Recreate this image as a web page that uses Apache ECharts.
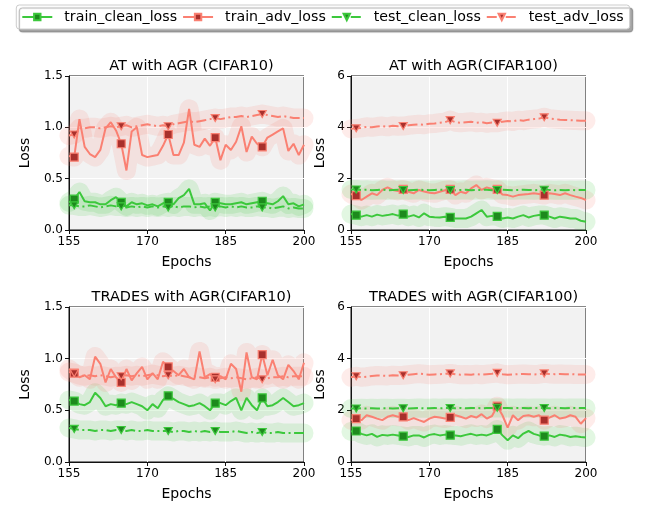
<!DOCTYPE html>
<html>
<head>
<meta charset="utf-8">
<script src="https://cdn.jsdelivr.net/npm/echarts@6/dist/echarts.min.js"></script>
<style>
  html, body { margin: 0; padding: 0; background: #fff; }
  #chart { width: 645px; height: 505px; }
</style>
</head>
<body>
<div id="chart"></div>
<script>
// epochs 155..200, markers every 9 epochs starting at 156
const epochs = Array.from({ length: 46 }, (_, i) => 155 + i);
const markIdx = [1, 10, 19, 28, 37];

const xTicks = [155, 170, 185, 200];
const yTicksC10 = [0, 0.5, 1.0, 1.5];
const yTicksC100 = [0, 2, 4, 6];

const titles = ['AT with AGR (CIFAR10)', 'AT with AGR(CIFAR100)', 'TRADES with AGR(CIFAR10)', 'TRADES with AGR(CIFAR100)'];
const names = ['train_clean_loss', 'train_adv_loss', 'test_clean_loss', 'test_adv_loss'];

// AT, CIFAR10
const atC10TrainClean = [0.27,0.30,0.37,0.28,0.27,0.27,0.25,0.25,0.29,0.32,0.27,0.23,0.27,0.25,0.26,0.24,0.25,0.23,0.26,0.27,0.25,0.31,0.34,0.40,0.25,0.25,0.26,0.19,0.27,0.26,0.25,0.25,0.26,0.27,0.25,0.26,0.27,0.28,0.26,0.25,0.28,0.33,0.25,0.26,0.23,0.25];
const atC10TrainAdv = [0.72,0.71,1.08,0.81,0.74,0.71,0.78,0.99,1.05,0.97,0.84,0.58,0.96,1.00,0.73,0.71,0.72,0.73,0.82,0.93,0.73,0.73,0.85,1.18,0.83,0.81,0.89,0.82,0.90,0.68,0.83,0.78,0.86,1.01,0.76,0.91,0.84,0.81,0.90,0.93,0.96,0.99,0.77,0.84,0.73,0.83];
const atC10TestClean = [0.24,0.24,0.23,0.23,0.24,0.23,0.22,0.23,0.24,0.23,0.23,0.22,0.23,0.22,0.23,0.22,0.23,0.22,0.23,0.22,0.23,0.22,0.23,0.23,0.22,0.23,0.22,0.23,0.22,0.23,0.22,0.23,0.22,0.23,0.22,0.22,0.23,0.22,0.22,0.21,0.22,0.23,0.21,0.22,0.21,0.21];
const atC10TestAdv = [0.92,0.93,0.99,0.99,1.00,1.00,0.99,1.00,1.01,1.00,1.01,1.02,1.00,1.01,1.02,1.03,1.02,1.01,1.02,1.01,1.03,1.04,1.05,1.06,1.05,1.06,1.07,1.08,1.09,1.08,1.09,1.10,1.10,1.11,1.10,1.11,1.12,1.13,1.12,1.11,1.10,1.11,1.10,1.09,1.09,1.09];

// AT, CIFAR100
const atC100TrainClean = [0.62,0.58,0.52,0.58,0.52,0.60,0.55,0.58,0.62,0.56,0.62,0.52,0.58,0.49,0.65,0.52,0.50,0.49,0.52,0.49,0.45,0.45,0.45,0.52,0.65,0.78,0.52,0.55,0.53,0.45,0.49,0.45,0.52,0.58,0.49,0.55,0.58,0.58,0.52,0.45,0.52,0.49,0.45,0.45,0.36,0.32];
const atC100TrainAdv = [1.40,1.34,1.17,1.30,1.43,1.36,1.56,1.66,1.56,1.52,1.58,1.49,1.43,1.56,1.50,1.45,1.43,1.49,1.55,1.58,1.36,1.49,1.43,1.62,1.75,1.56,1.66,1.60,1.58,1.38,1.36,1.30,1.36,1.38,1.40,1.43,1.40,1.36,1.43,1.40,1.36,1.43,1.36,1.30,1.25,1.17];
const atC100TestClean = [1.58,1.58,1.56,1.57,1.55,1.56,1.57,1.55,1.56,1.57,1.56,1.55,1.56,1.57,1.56,1.55,1.56,1.57,1.56,1.56,1.55,1.56,1.57,1.55,1.56,1.56,1.57,1.55,1.56,1.57,1.56,1.55,1.56,1.57,1.56,1.55,1.56,1.57,1.56,1.55,1.56,1.55,1.56,1.55,1.56,1.56];
const atC100TestAdv = [3.94,3.96,3.98,4.02,4.00,4.03,4.05,4.02,4.06,4.04,4.05,4.08,4.10,4.12,4.10,4.14,4.15,4.18,4.20,4.28,4.20,4.18,4.20,4.22,4.18,4.20,4.16,4.19,4.18,4.22,4.25,4.23,4.28,4.26,4.30,4.32,4.34,4.39,4.34,4.32,4.30,4.29,4.28,4.27,4.26,4.26];

// TRADES, CIFAR10
const trC10TrainClean = [0.60,0.59,0.56,0.55,0.58,0.67,0.62,0.54,0.56,0.55,0.57,0.56,0.58,0.56,0.54,0.50,0.56,0.52,0.60,0.64,0.61,0.58,0.56,0.54,0.55,0.57,0.54,0.50,0.57,0.57,0.55,0.59,0.62,0.50,0.62,0.55,0.50,0.62,0.54,0.55,0.58,0.62,0.58,0.54,0.55,0.57];
const trC10TrainAdv = [0.90,0.86,0.82,0.84,0.80,1.02,0.95,0.77,0.90,0.82,0.77,0.90,0.79,0.86,0.92,0.80,0.86,0.80,0.97,0.92,0.88,0.84,0.90,0.82,0.80,1.07,0.82,0.85,0.82,0.83,0.80,0.95,0.90,0.68,1.06,0.82,0.80,1.04,0.84,0.99,0.84,0.80,0.94,0.88,0.80,0.96];
const trC10TestClean = [0.33,0.32,0.31,0.31,0.31,0.30,0.31,0.31,0.30,0.31,0.31,0.30,0.31,0.30,0.30,0.31,0.30,0.30,0.30,0.30,0.29,0.30,0.30,0.29,0.30,0.29,0.30,0.29,0.30,0.29,0.29,0.29,0.30,0.29,0.28,0.29,0.28,0.29,0.28,0.28,0.29,0.28,0.28,0.28,0.28,0.28];
const trC10TestAdv = [0.87,0.86,0.84,0.83,0.84,0.83,0.84,0.83,0.82,0.83,0.83,0.84,0.83,0.84,0.83,0.84,0.85,0.84,0.83,0.84,0.83,0.84,0.83,0.82,0.83,0.82,0.81,0.82,0.80,0.81,0.82,0.81,0.82,0.81,0.80,0.81,0.82,0.80,0.81,0.82,0.82,0.83,0.82,0.83,0.83,0.83];

// TRADES, CIFAR100
const trC100TrainClean = [1.18,1.20,1.09,1.03,1.09,0.97,1.05,1.03,1.06,1.03,1.00,0.97,1.03,1.03,0.95,1.05,1.08,1.03,1.06,1.04,1.03,1.00,1.05,1.09,1.03,1.06,1.03,1.10,1.26,1.03,0.84,1.03,0.92,1.10,1.20,1.09,1.03,1.00,1.03,0.97,1.06,1.03,0.97,1.00,0.97,0.95];
const trC100TrainAdv = [1.62,1.68,1.62,1.81,1.75,1.68,1.62,1.75,1.81,1.75,1.75,1.62,1.70,1.62,1.55,1.68,1.75,1.72,1.68,1.73,1.81,1.75,1.68,1.78,1.72,1.85,1.68,1.78,2.16,1.81,1.33,1.81,1.62,1.78,1.81,1.75,1.81,1.62,1.72,1.81,1.68,1.72,1.81,1.75,1.48,1.70];
const trC100TestClean = [2.07,2.07,2.08,2.07,2.08,2.07,2.08,2.08,2.07,2.08,2.08,2.07,2.08,2.09,2.08,2.08,2.09,2.08,2.09,2.09,2.08,2.09,2.08,2.09,2.09,2.08,2.09,2.09,2.10,2.09,2.09,2.08,2.09,2.09,2.08,2.09,2.09,2.09,2.08,2.09,2.09,2.08,2.09,2.09,2.09,2.09];
const trC100TestAdv = [3.28,3.32,3.28,3.30,3.33,3.35,3.34,3.33,3.36,3.35,3.36,3.38,3.40,3.42,3.40,3.38,3.39,3.40,3.41,3.43,3.40,3.38,3.39,3.38,3.40,3.38,3.40,3.42,3.45,3.40,3.38,3.39,3.40,3.41,3.40,3.39,3.40,3.43,3.41,3.40,3.41,3.40,3.40,3.39,3.39,3.39];

const panels = [
  [atC10TrainClean, atC10TrainAdv, atC10TestClean, atC10TestAdv],
  [atC100TrainClean, atC100TrainAdv, atC100TestClean, atC100TestAdv],
  [trC10TrainClean, trC10TrainAdv, trC10TestClean, trC10TestAdv],
  [trC100TrainClean, trC100TrainAdv, trC100TestClean, trC100TestAdv]
];

const GREEN = '#3cc83c';
const SALMON = '#fa8072';
const triDown = 'path://M0,0 L10,0 L5,9 Z';
const dashDot = [10, 3.5, 2, 3.5];
const styles = [
  { color: GREEN, halo: 'rgba(60,200,60,0.15)', fill: '#1d8a1d', symbol: 'rect', dash: 'solid' },
  { color: SALMON, halo: 'rgba(250,128,114,0.15)', fill: '#a8302c', symbol: 'rect', dash: 'solid' },
  { color: GREEN, halo: 'rgba(60,200,60,0.15)', fill: '#1d8a1d', symbol: triDown, dash: dashDot },
  { color: SALMON, halo: 'rgba(250,128,114,0.15)', fill: '#a8302c', symbol: triDown, dash: dashDot }
];

const font = 'DejaVu Sans';
const gridPos = [
  { left: 69, top: 76, width: 235, height: 154 },
  { left: 351, top: 76, width: 235, height: 154 },
  { left: 69, top: 307, width: 235, height: 155 },
  { left: 351, top: 307, width: 235, height: 155 }
];

let chart = echarts.init(document.getElementById('chart'));

const grids = gridPos.map(g => Object.assign({
  show: true, backgroundColor: '#f2f2f2', borderColor: '#111', borderWidth: 1
}, g));

const xAxes = gridPos.map((g, i) => ({
  gridIndex: i, type: 'value',
  // offset from first epoch so ticks land on 155/170/185/200
  min: 0, max: xTicks[xTicks.length - 1] - xTicks[0], interval: xTicks[1] - xTicks[0],
  name: 'Epochs', nameLocation: 'middle', nameGap: 25,
  nameTextStyle: { fontFamily: font, fontSize: 14, color: '#000' },
  axisLine: { show: true, onZero: false, lineStyle: { color: '#111', width: 1 } },
  axisTick: { show: true, length: 4, lineStyle: { color: '#111' } },
  axisLabel: { fontFamily: font, fontSize: 12, color: '#000', margin: 6, formatter: v => String(v + xTicks[0]) },
  splitLine: { show: true, lineStyle: { color: '#fff', width: 1 } }
}));

const yAxes = gridPos.map((g, i) => {
  const ticks = (i % 2 === 0) ? yTicksC10 : yTicksC100;
  return {
    gridIndex: i, type: 'value',
    min: ticks[0], max: ticks[ticks.length - 1], interval: ticks[1] - ticks[0],
    name: 'Loss', nameLocation: 'middle', nameGap: (i % 2 === 0) ? 37 : 24,
    nameTextStyle: { fontFamily: font, fontSize: 14, color: '#000' },
    axisLine: { show: true, lineStyle: { color: '#111', width: 1 } },
    axisTick: { show: true, length: 4, lineStyle: { color: '#111' } },
    axisLabel: {
      fontFamily: font, fontSize: 12, color: '#000', margin: 6,
      formatter: v => (i % 2 === 0) ? v.toFixed(1) : String(v)
    },
    splitLine: { show: true, lineStyle: { color: '#fff', width: 1 } }
  };
});

const series = [];
panels.forEach((lines, p) => {
  lines.forEach((vals, k) => {
    const st = styles[k];
    const pts = vals.map((v, i) => [epochs[i] - epochs[0], v]);
    series.push({
      name: names[k] + '_halo', type: 'line', xAxisIndex: p, yAxisIndex: p,
      data: pts, symbol: 'none', silent: true, z: 2, animation: false,
      lineStyle: { color: st.halo, width: 19, cap: 'round', join: 'round' }
    });
    series.push({
      name: names[k], type: 'line', xAxisIndex: p, yAxisIndex: p, z: 3, animation: false,
      data: pts.map((d, i) => markIdx.indexOf(i) >= 0 ? { value: d } : { value: d, symbol: 'none' }),
      symbol: st.symbol, symbolSize: k < 2 ? 8 : [8, 7], showSymbol: true, showAllSymbol: true,
      itemStyle: { color: st.fill, borderColor: st.color, borderWidth: 1.2, opacity: 1 },
      lineStyle: { color: st.color, width: 2, type: st.dash }
    });
  });
});

const option = {
  backgroundColor: '#fff',
  title: titles.map((t, i) => ({
    text: t,
    left: gridPos[i].left + gridPos[i].width / 2,
    top: gridPos[i].top - 22,
    textAlign: 'center',
    textStyle: { fontFamily: font, fontSize: 14.5, fontWeight: 'normal', color: '#000' }
  })),
  legend: {
    data: names, top: 5, left: 'center', itemWidth: 30, itemHeight: 8, itemGap: 5,
    padding: [5, 6, 5, 5],
    textStyle: { fontFamily: font, fontSize: 14.2, color: '#000', padding: [0, 0, 0, 7] },
    backgroundColor: '#fff', borderColor: '#ccc', borderWidth: 1, borderRadius: 3,
    shadowColor: 'rgba(0,0,0,0.35)', shadowOffsetX: 3, shadowOffsetY: 3, shadowBlur: 1
  },
  grid: grids,
  xAxis: xAxes,
  yAxis: yAxes,
  series: series
};

chart.setOption(option);
</script>
</body>
</html>
